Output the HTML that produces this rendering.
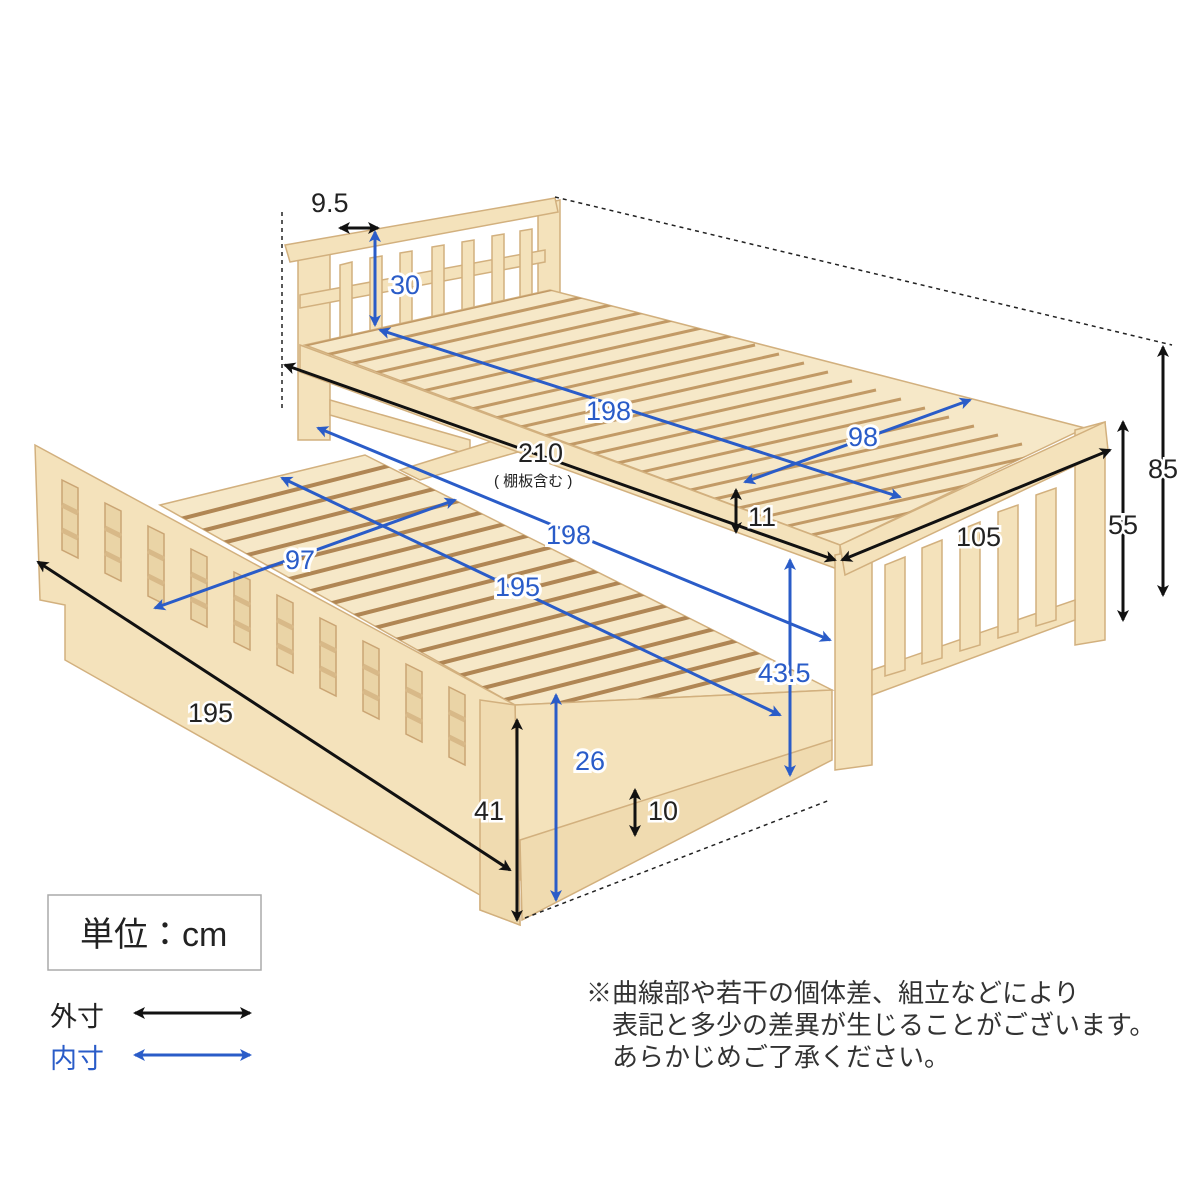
<!DOCTYPE html>
<html><head><meta charset="utf-8"><style>
body{margin:0;background:#fff;}
svg{display:block;font-family:"Liberation Sans","Noto Sans CJK JP",sans-serif;}
</style></head><body>
<svg width="1200" height="1200" viewBox="0 0 1200 1200" xmlns="http://www.w3.org/2000/svg">
<defs>
<marker id="ak" markerWidth="12" markerHeight="12" refX="10" refY="6" orient="auto-start-reverse" markerUnits="userSpaceOnUse" viewBox="0 0 12 12"><path d="M0,0 L12,6 L0,12 L3,6z" fill="#111"/></marker>
<marker id="ab" markerWidth="12" markerHeight="12" refX="10" refY="6" orient="auto-start-reverse" markerUnits="userSpaceOnUse" viewBox="0 0 12 12"><path d="M0,0 L12,6 L0,12 L3,6z" fill="#2a5cc8"/></marker>
<line id="us" x1="-30" y1="7" x2="280" y2="-63" stroke="#c29a66" stroke-width="3"/>
<line id="ts" x1="-30" y1="8" x2="260" y2="-66" stroke="#b08654" stroke-width="4"/>
<g id="win"><polygon points="0,0 16,8 16,78 0,70" fill="#ead4a6" stroke="#caa574" stroke-width="1.5"/><line x1="0" y1="25" x2="16" y2="33" stroke="#d8b988" stroke-width="5"/><line x1="0" y1="50" x2="16" y2="58" stroke="#d8b988" stroke-width="5"/></g>
<clipPath id="cu"><polygon points="305,345 550,290 1085,428 840,545"/></clipPath>
<clipPath id="ct"><polygon points="160,505 365,455 832,690 515,705"/></clipPath>
</defs>
<g stroke="#d2b07e" stroke-width="1.5" fill="#f4e2bb">
<polygon points="298,250 330,244 330,440 298,440"/>
<polygon points="538,205 560,200 560,330 538,335"/>
<polygon points="285,245 555,198 558,212 290,262"/>
<polygon points="300,295 545,250 545,262 300,308"/>
<polygon points="340,265 352,262 352,335 340,338"/>
<polygon points="370,258 382,256 382,330 370,332"/>
<polygon points="400,253 412,251 412,322 400,324"/>
<polygon points="432,247 444,245 444,316 432,318"/>
<polygon points="462,242 474,240 474,310 462,312"/>
<polygon points="492,236 504,234 504,305 492,307"/>
<polygon points="520,231 532,229 532,300 520,302"/>
<polygon points="330,400 470,440 470,455 330,415"/>
<polygon points="400,470 560,420 560,440 420,480"/>
<polygon points="305,345 550,290 1085,428 840,545" fill="#f6e8c8"/>
</g>
<g clip-path="url(#cu)"><g transform="translate(305,345)">
<use href="#us"/><use href="#us" x="24" y="9"/><use href="#us" x="48" y="18"/><use href="#us" x="73" y="27"/><use href="#us" x="97" y="36"/><use href="#us" x="121" y="45"/><use href="#us" x="146" y="54"/><use href="#us" x="170" y="63"/><use href="#us" x="194" y="72"/><use href="#us" x="219" y="81"/><use href="#us" x="243" y="90"/><use href="#us" x="267" y="99"/><use href="#us" x="291" y="108"/><use href="#us" x="316" y="117"/><use href="#us" x="340" y="126"/><use href="#us" x="364" y="135"/><use href="#us" x="389" y="144"/><use href="#us" x="413" y="153"/><use href="#us" x="437" y="162"/><use href="#us" x="462" y="171"/><use href="#us" x="486" y="180"/><use href="#us" x="510" y="189"/>
</g></g>
<g stroke="#d2b07e" stroke-width="1.5" fill="#f4e2bb">
<polygon points="300,345 840,545 840,570 300,372"/>
<polygon points="835,555 872,548 872,765 835,770"/>
<polygon points="1075,430 1105,422 1105,640 1075,645"/>
<polygon points="840,545 1105,422 1108,450 845,575"/>
<polygon points="872,670 1075,600 1075,620 872,695"/>
<polygon points="885,565 905,557 905,670 885,676"/>
<polygon points="922,548 942,540 942,658 922,664"/>
<polygon points="960,530 980,522 980,645 960,651"/>
<polygon points="998,512 1018,505 1018,632 998,638"/>
<polygon points="1036,495 1056,488 1056,620 1036,626"/>
<polygon points="160,505 365,455 832,690 515,705" fill="#f6e8c8"/>
</g>
<g clip-path="url(#ct)"><g transform="translate(175,520)">
<use href="#ts"/><use href="#ts" x="21" y="12"/><use href="#ts" x="42" y="24"/><use href="#ts" x="63" y="37"/><use href="#ts" x="84" y="49"/><use href="#ts" x="105" y="61"/><use href="#ts" x="127" y="73"/><use href="#ts" x="148" y="85"/><use href="#ts" x="169" y="98"/><use href="#ts" x="190" y="110"/><use href="#ts" x="211" y="122"/><use href="#ts" x="232" y="134"/><use href="#ts" x="253" y="146"/><use href="#ts" x="274" y="158"/><use href="#ts" x="295" y="171"/><use href="#ts" x="316" y="183"/><use href="#ts" x="337" y="195"/><use href="#ts" x="358" y="207"/>
</g></g>
<g stroke="#d2b07e" stroke-width="1.5" fill="#f4e2bb">
<polygon points="515,705 832,690 832,740 520,880"/>
<polygon points="520,840 832,740 832,760 522,920" fill="#f0dbb0"/>
<polygon points="35,445 515,705 520,925 480,910 480,895 65,660 65,605 40,600"/>
<polygon points="480,700 515,705 520,925 480,910" fill="#f0dbb0"/>
</g>
<g>
<use href="#win" x="62" y="480"/><use href="#win" x="105" y="503"/><use href="#win" x="148" y="526"/><use href="#win" x="191" y="549"/><use href="#win" x="234" y="572"/><use href="#win" x="277" y="595"/><use href="#win" x="320" y="618"/><use href="#win" x="363" y="641"/><use href="#win" x="406" y="664"/><use href="#win" x="449" y="687"/>
</g>
<g stroke="#222" stroke-width="1.5" stroke-dasharray="4,4" fill="none">
<line x1="282" y1="212" x2="282" y2="410"/>
<line x1="555" y1="197" x2="1172" y2="345"/>
<line x1="525" y1="918" x2="830" y2="800"/>
<line x1="556" y1="695" x2="556" y2="830"/>
</g>
<g stroke="#111" stroke-width="3" marker-start="url(#ak)" marker-end="url(#ak)">
<line x1="285" y1="365" x2="835" y2="560"/>
<line x1="842" y1="560" x2="1110" y2="450"/>
<line x1="1163" y1="347" x2="1163" y2="595"/>
<line x1="1123" y1="422" x2="1123" y2="620"/>
<line x1="340" y1="228" x2="378" y2="228"/>
<line x1="736" y1="490" x2="736" y2="532"/>
<line x1="38" y1="562" x2="510" y2="870"/>
<line x1="517" y1="720" x2="517" y2="920"/>
<line x1="635" y1="790" x2="635" y2="835"/>
<line x1="135" y1="1013" x2="250" y2="1013"/>
</g>
<g stroke="#2a5cc8" stroke-width="3" marker-start="url(#ab)" marker-end="url(#ab)">
<line x1="375" y1="232" x2="375" y2="325"/>
<line x1="380" y1="330" x2="900" y2="497"/>
<line x1="745" y1="482" x2="970" y2="400"/>
<line x1="318" y1="428" x2="830" y2="640"/>
<line x1="155" y1="608" x2="455" y2="500"/>
<line x1="282" y1="478" x2="780" y2="715"/>
<line x1="790" y1="560" x2="790" y2="775"/>
<line x1="556" y1="695" x2="556" y2="900"/>
<line x1="135" y1="1055" x2="250" y2="1055"/>
</g>
<g font-size="27" fill="#222" stroke="#fff" stroke-width="5" paint-order="stroke">
<text x="311" y="212">9.5</text>
<text x="518" y="462">210</text>
<text x="494" y="486" font-size="15">( 棚板含む )</text>
<text x="956" y="546">105</text>
<text x="1148" y="478">85</text>
<text x="1108" y="534">55</text>
<text x="748" y="526">11</text>
<text x="188" y="722">195</text>
<text x="474" y="820">41</text>
<text x="648" y="820">10</text>
</g>
<g font-size="27" fill="#2a5cc8" stroke="#fff" stroke-width="6" paint-order="stroke">
<text x="390" y="294">30</text>
<text x="586" y="420">198</text>
<text x="848" y="446">98</text>
<text x="546" y="544">198</text>
<text x="285" y="569">97</text>
<text x="495" y="596">195</text>
<text x="758" y="682">43.5</text>
<text x="575" y="770">26</text>
</g>
<rect x="48" y="895" width="213" height="75" fill="#fff" stroke="#aaa" stroke-width="1.5"/>
<text x="80" y="946" font-size="34" fill="#222">単位：cm</text>
<text x="50" y="1026" font-size="27" fill="#222">外寸</text>
<text x="50" y="1068" font-size="27" fill="#2a5cc8">内寸</text>
<g font-size="26" fill="#333">
<text x="586" y="1002">※曲線部や若干の個体差、組立などにより</text>
<text x="612" y="1034">表記と多少の差異が生じることがございます。</text>
<text x="612" y="1066">あらかじめご了承ください。</text>
</g>
</svg>
</body></html>
